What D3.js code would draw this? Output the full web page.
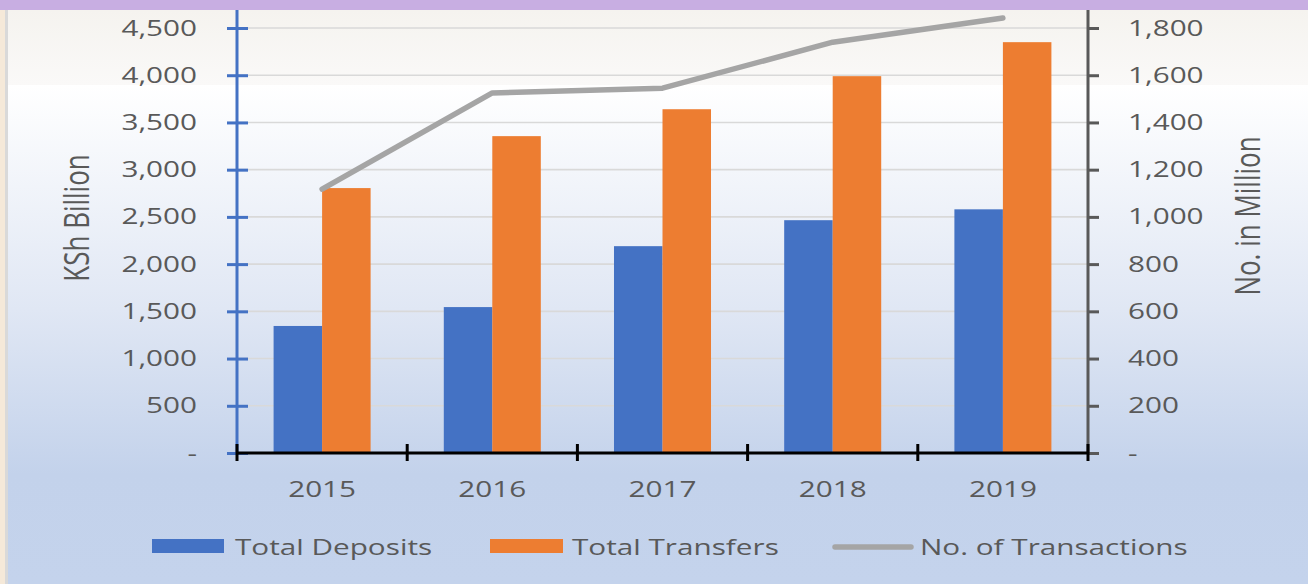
<!DOCTYPE html>
<html>
<head>
<meta charset="utf-8">
<script src="https://cdn.jsdelivr.net/npm/d3@7"></script>
<style>
  html, body { margin: 0; padding: 0; background: #ffffff; }
  svg { display: block; }
  text { font-family: "Open Sans", "DejaVu Sans", sans-serif; fill: #595959; }
</style>
</head>
<body>
<svg id="chart" width="1308" height="584"></svg>
<script>
// Mobile money figures, 2015-2019
const years = ["2015", "2016", "2017", "2018", "2019"];
const totalDeposits = [1345, 1545, 2190, 2465, 2580];      // KSh Billion
const totalTransfers = [2805, 3355, 3640, 3990, 4350];     // KSh Billion
const transactions = [1118, 1525, 1545, 1740, 1842];       // No. in Million
const leftTicks = [0, 500, 1000, 1500, 2000, 2500, 3000, 3500, 4000, 4500];
const rightTicks = [0, 200, 400, 600, 800, 1000, 1200, 1400, 1600, 1800];
const seriesNames = ["Total Deposits", "Total Transfers", "No. of Transactions"];

const W = 1308, H = 584;
const svg = d3.select("#chart");
const SX = 1.35; // horizontal text stretch

const fmt = v => v === 0 ? "-" : d3.format(",")(v);

// background
const defs = svg.append("defs");
const bg = defs.append("linearGradient").attr("id", "bg").attr("x1", 0).attr("y1", 0).attr("x2", 0).attr("y2", 1)
  .attr("gradientUnits", "userSpaceOnUse").attr("y1", 85).attr("y2", 584);
bg.append("stop").attr("offset", "0").attr("stop-color", "#ffffff");
bg.append("stop").attr("offset", "0.45").attr("stop-color", "#e0e7f4");
bg.append("stop").attr("offset", "0.78").attr("stop-color", "#c3d2eb");
bg.append("stop").attr("offset", "1").attr("stop-color", "#c4d3ec");
const topBg = defs.append("linearGradient").attr("id", "topbg").attr("x1", 0).attr("y1", 0).attr("x2", 0).attr("y2", 1);
topBg.append("stop").attr("offset", "0").attr("stop-color", "#f5f3ef");
topBg.append("stop").attr("offset", "1").attr("stop-color", "#faf9f8");

svg.append("rect").attr("x", 0).attr("y", 0).attr("width", W).attr("height", H).attr("fill", "url(#bg)");
svg.append("rect").attr("x", 0).attr("y", 10).attr("width", W).attr("height", 75).attr("fill", "url(#topbg)");
svg.append("rect").attr("x", 0).attr("y", 0).attr("width", W).attr("height", 10).attr("fill", "#c8aee2");
svg.append("rect").attr("x", 0).attr("y", 10).attr("width", 5).attr("height", H - 10).attr("fill", "#f5e9d9");
svg.append("rect").attr("x", 5).attr("y", 10).attr("width", 3).attr("height", H - 10).attr("fill", "#d9d9d9");

// scales
const plotL = 237, plotR = 1088, plotT = 28, plotB = 453;
const x = d3.scaleBand().domain(years).range([plotL, plotR]).padding(0);
const yL = d3.scaleLinear().domain([0, 4500]).range([plotB, plotT]);
const yR = d3.scaleLinear().domain([0, 1800]).range([plotB, plotT]);
const groupW = x.bandwidth() * 0.57;
const xs = d3.scaleBand().domain([0, 1]).range([0, groupW]).padding(0);

// gridlines
svg.append("g").selectAll("line").data(leftTicks.filter(d => d > 0)).join("line")
  .attr("x1", plotL).attr("x2", plotR)
  .attr("y1", d => yL(d)).attr("y2", d => yL(d))
  .attr("stroke", "#d9d9d9").attr("stroke-width", 1.6);

// bars
const groups = svg.append("g").selectAll("g").data(years).join("g")
  .attr("transform", d => `translate(${x(d) + (x.bandwidth() - groupW) / 2},0)`);
groups.append("rect")
  .attr("x", xs(0)).attr("width", xs.bandwidth())
  .attr("y", (d, i) => yL(totalDeposits[i])).attr("height", (d, i) => plotB - yL(totalDeposits[i]))
  .attr("fill", "#4472c4");
groups.append("rect")
  .attr("x", xs(1)).attr("width", xs.bandwidth())
  .attr("y", (d, i) => yL(totalTransfers[i])).attr("height", (d, i) => plotB - yL(totalTransfers[i]))
  .attr("fill", "#ed7d31");

// left axis (blue)
const gL = svg.append("g").attr("transform", `translate(${plotL},0)`);
gL.call(d3.axisLeft(yL).tickValues(leftTicks).tickSize(0).tickFormat(""));
gL.select(".domain").remove();
gL.append("line").attr("x1", 0).attr("x2", 0).attr("y1", 10).attr("y2", plotB)
  .attr("stroke", "#4472c4").attr("stroke-width", 3);
gL.selectAll(".tick").append("line").attr("x1", -10).attr("x2", 11)
  .attr("stroke", "#4472c4").attr("stroke-width", 3);
gL.selectAll(".tick").append("text")
  .attr("transform", `translate(-40,7) scale(${SX},1)`)
  .attr("text-anchor", "end").attr("font-size", 22)
  .text(d => fmt(d));

// right axis (gray)
const gR = svg.append("g").attr("transform", `translate(${plotR},0)`);
gR.call(d3.axisRight(yR).tickValues(rightTicks).tickSize(0).tickFormat(""));
gR.select(".domain").remove();
gR.append("line").attr("x1", 0).attr("x2", 0).attr("y1", 10).attr("y2", plotB)
  .attr("stroke", "#595959").attr("stroke-width", 3);
gR.selectAll(".tick").append("line").attr("x1", 0).attr("x2", 11)
  .attr("stroke", "#595959").attr("stroke-width", 3);
gR.selectAll(".tick").append("text")
  .attr("transform", `translate(40,7) scale(${SX},1)`)
  .attr("text-anchor", "start").attr("font-size", 22)
  .text(d => fmt(d));

// x axis (black)
const gX = svg.append("g").attr("transform", `translate(0,${plotB})`);
gX.append("line").attr("x1", plotL).attr("x2", plotR).attr("stroke", "#000").attr("stroke-width", 3);
const bounds = years.map(d => x(d)).concat([plotR]);
gX.selectAll("line.tk").data(bounds).join("line").attr("class", "tk")
  .attr("x1", d => d).attr("x2", d => d).attr("y1", -9).attr("y2", 8)
  .attr("stroke", "#000").attr("stroke-width", 3);
gX.selectAll("text").data(years).join("text")
  .attr("transform", d => `translate(${x(d) + x.bandwidth() / 2},44) scale(${SX},1)`)
  .attr("text-anchor", "middle").attr("font-size", 22)
  .text(d => d);

// transactions line
const line = d3.line().x((d, i) => x(years[i]) + x.bandwidth() / 2).y(d => yR(d));
svg.append("path").datum(transactions).attr("d", line)
  .attr("fill", "none").attr("stroke", "#a5a5a5").attr("stroke-width", 5.5)
  .attr("stroke-linecap", "round").attr("stroke-linejoin", "round");

// axis titles
svg.append("text").attr("transform", `translate(89,218) scale(${SX},1) rotate(-90)`)
  .attr("text-anchor", "middle").attr("font-size", 26).text("KSh Billion");
svg.append("text").attr("transform", `translate(1260,216) scale(${SX},1) rotate(-90)`)
  .attr("text-anchor", "middle").attr("font-size", 26).text("No. in Million");

// legend
const lg = svg.append("g");
lg.append("rect").attr("x", 152).attr("y", 539).attr("width", 72).attr("height", 14).attr("fill", "#4472c4");
lg.append("text").attr("transform", `translate(235,555) scale(${SX},1)`).attr("font-size", 22).text(seriesNames[0]);
lg.append("rect").attr("x", 490).attr("y", 539).attr("width", 73).attr("height", 14).attr("fill", "#ed7d31");
lg.append("text").attr("transform", `translate(572,555) scale(${SX},1)`).attr("font-size", 22).text(seriesNames[1]);
lg.append("line").attr("x1", 835).attr("x2", 911).attr("y1", 547).attr("y2", 547)
  .attr("stroke", "#a5a5a5").attr("stroke-width", 5.5).attr("stroke-linecap", "round");
lg.append("text").attr("transform", `translate(920,555) scale(${SX},1)`).attr("font-size", 22).text(seriesNames[2]);
</script>
</body>
</html>
